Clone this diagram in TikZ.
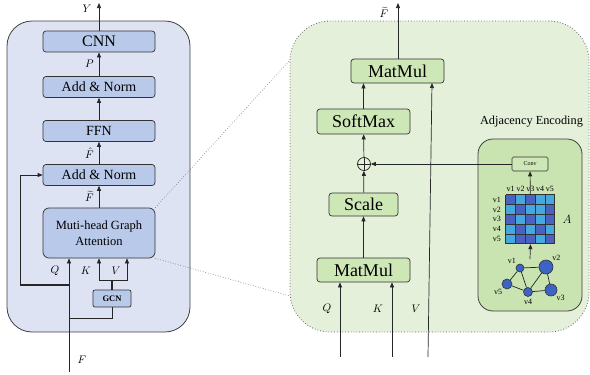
\documentclass[tikz,border=0pt]{standalone}
\usepackage{fontspec}
\setmainfont{Liberation Serif}
\usetikzlibrary{positioning, arrows.meta, calc}

\definecolor{leftbg}{HTML}{DDE3F3}
\definecolor{leftbox}{HTML}{B9C9EA}
\definecolor{rightbg}{HTML}{E4F0DA}
\definecolor{rightbox}{HTML}{CDE7B6}
\definecolor{innerbg}{HTML}{C9E3B1}
\definecolor{celldark}{HTML}{4A62C2}
\definecolor{celllight}{HTML}{45A9E0}
\definecolor{nodeblue}{HTML}{3D63C4}

\begin{document}
\begin{tikzpicture}[
    x=1pt, y=-1pt,
    panel/.style={rectangle, draw=black!75, line width=0.8pt},
    lbox/.style={rectangle, rounded corners=3pt, draw=black!80, line width=0.7pt, fill=leftbox, minimum width=112pt, minimum height=21pt, inner sep=1pt, font=\fontsize{14}{16}\selectfont},
    rbox/.style={rectangle, rounded corners=3pt, draw=black!80, line width=0.7pt, fill=rightbox, minimum width=93pt, minimum height=24pt, inner sep=1pt, font=\fontsize{18}{20}\selectfont},
    arrow/.style={-{Triangle[length=5pt, width=4pt]}, line width=0.7pt, draw=black!85},
    line/.style={line width=0.7pt, draw=black!85},
    lbl/.style={inner sep=0pt, font=\fontsize{11}{12}\selectfont},
    small/.style={inner sep=0pt, font=\fontsize{8}{9}\selectfont},
    zoomline/.style={dotted, draw=black!60, line width=0.6pt},
    vert/.style={circle, draw=black!80, line width=0.6pt, fill=nodeblue, inner sep=0pt},
]
\useasboundingbox (0,0) rectangle (590,375);

%% NODES
    % encoder block
    \node[panel, fill=leftbg, rounded corners=25pt, minimum width=183pt, minimum height=311pt] (left_panel) at (98.5,176.5) {};
    \node[lbox, font=\fontsize{16}{18}\selectfont] (cnn) at (99,41.5) {CNN};
    \node[lbox] (addnorm_top) at (99,87) {Add \& Norm};
    \node[lbox] (ffn) at (99,131) {FFN};
    \node[lbox] (addnorm_low) at (99,175) {Add \& Norm};
    \node[lbox, minimum height=50pt, rounded corners=6pt, align=center, font=\fontsize{12.5}{16}\selectfont] (mhga) at (99,233) {Muti-head Graph\\Attention};
    \node[lbox, rounded corners=2pt, minimum width=38pt, minimum height=17pt, font=\fontsize{8.5}{9}\selectfont\bfseries] (gcn) at (112,298.5) {GCN};

    % attention block
    \node[panel, fill=rightbg, draw=black!60, dotted, rounded corners=40pt, minimum width=299pt, minimum height=311pt] (right_panel) at (439.5,176.5) {};
    \node[rbox] (matmul_top) at (397.5,71) {MatMul};
    \node[rbox, minimum height=25pt] (softmax) at (363.5,121.5) {SoftMax};
    \node[circle, draw=black!85, line width=0.7pt, minimum size=13pt, inner sep=0pt] (plus) at (364,164) {};
    \draw[line] (plus.north) -- (plus.south) (plus.west) -- (plus.east);
    \node[rbox, minimum width=69pt, minimum height=23pt] (scale) at (363.5,204.5) {Scale};
    \node[rbox] (matmul_low) at (363.5,270) {MatMul};

    % adjacency encoding
    \node[inner sep=0pt, font=\fontsize{12.3}{14}\selectfont] (adj_title) at (531.5,122) {Adjacency Encoding};
    \node[panel, fill=innerbg, rounded corners=15pt, minimum width=104pt, minimum height=172pt] (adj_box) at (530,225) {};
    \node[rectangle, rounded corners=1.5pt, draw=black!80, line width=0.6pt, fill=rightbox, minimum width=36pt, minimum height=14pt, inner sep=0pt, font=\fontsize{6}{7}\selectfont] (conv) at (530,164) {Conv};
    \node[minimum size=49pt, inner sep=0pt] (adj_matrix) at (530.5,219.5) {};
    \fill[celllight] (adj_matrix.north west) rectangle (adj_matrix.south east);
    \foreach \c/\r in {1/1,3/1,2/2,5/2,1/3,3/3,5/3,2/4,4/4,2/5,3/5,5/5}
        \fill[celldark] ($(adj_matrix.north west)+({(\c-1)*9.8},{(\r-1)*9.8})$) rectangle +(9.8,9.8);
    \foreach \i in {0,...,5} {
        \draw[black!80, line width=0.8pt] ($(adj_matrix.north west)+({\i*9.8},0)$) -- ++(0,49);
        \draw[black!80, line width=0.8pt] ($(adj_matrix.north west)+(0,{\i*9.8})$) -- ++(49,0);
    }
    \foreach \i in {1,...,5} {
        \node[small] at ($(adj_matrix.north west)+({(\i-0.5)*9.8},-5.5)$) {v\i};
        \node[small] at ($(adj_matrix.north west)+(-9,{(\i-0.5)*9.8})$) {v\i};
    }
    \node[lbl, font=\fontsize{12}{12}\selectfont] (adj_label) at (567,219) {$A$};

    % graph
    \node[vert, minimum size=8pt, label={[small, inner sep=1pt]above left:v1}] (v1) at (520,268) {};
    \node[vert, minimum size=14pt, label={[small, inner sep=1pt]above right:v2}] (v2) at (546,267) {};
    \node[vert, minimum size=12pt, label={[small, inner sep=1pt]below right:v3}] (v3) at (551,290) {};
    \node[vert, minimum size=9pt, label={[small, inner sep=2pt]below:v4}] (v4) at (528,292) {};
    \node[vert, minimum size=10pt, label={[small, inner sep=1pt]below left:v5}] (v5) at (507,284) {};
    \coordinate (graph_top) at (530,259);

%% CONNECTIONS
    % encoder stack
    \coordinate (y_out) at (99,3);
    \draw[arrow] (cnn) -- (y_out);
    \node[lbl] at (87,9) {$Y$};
    \draw[arrow] (addnorm_top) -- node[lbl, left=5pt] {$P$} (cnn);
    \draw[arrow] (ffn) -- (addnorm_top);
    \draw[arrow] (addnorm_low) -- node[lbl, left=5pt] {$\hat{F}$} (ffn);
    \draw[arrow] (mhga) -- node[lbl, left=5pt] {$\widetilde{F}$} (addnorm_low);

    % input and residual
    \coordinate (f_in) at (69,372);
    \coordinate (res_tap) at (69,285);
    \coordinate (res_left) at (20,285);
    \coordinate (gcn_tap) at (69,318);
    \coordinate (kv_split) at (112,280);
    \draw[arrow] (f_in) -- (mhga.south -| f_in);
    \node[lbl] at (82,360) {$F$};
    \draw[line, line width=1.2pt] (res_tap) -- (res_left);
    \draw[arrow] (res_left) |- (addnorm_low.west);
    \draw[line] (gcn_tap) -| (gcn.south);
    \draw[line, line width=1.2pt] (gcn.north) -- (kv_split);
    \draw[arrow] (kv_split) -| (mhga.south);
    \draw[arrow] (kv_split) -| ([xshift=28pt]mhga.south);
    \node[lbl] at (55,271) {$Q$};
    \node[lbl] at (86,271) {$K$};
    \node[lbl] at (116,271) {$V$};

    % zoom lines
    \coordinate (zoom_top) at (290,60);
    \coordinate (zoom_bot) at (290,296);
    \draw[zoomline] (mhga.north east) -- (zoom_top);
    \draw[zoomline] (mhga.south east) -- (zoom_bot);

    % attention stack
    \coordinate (f_out) at (398,3);
    \draw[arrow] (matmul_top.north -| f_out) -- (f_out);
    \node[lbl] at (384,12) {$\widetilde{F}$};
    \draw[arrow] (softmax) -- (matmul_top.south -| softmax);
    \draw[arrow] (plus) -- (softmax);
    \draw[arrow] (scale) -- (plus);
    \draw[arrow] (matmul_low) -- (scale);
    \draw[arrow] (conv) -- (plus);

    % Q, K, V inputs
    \coordinate (q_in) at (340,357);
    \coordinate (k_in) at (392,357);
    \coordinate (v_in) at (428,357);
    \coordinate (v_top) at (432,83);
    \draw[arrow] (q_in) -- (matmul_low.south -| q_in);
    \draw[arrow] (k_in) -- (matmul_low.south -| k_in);
    \draw[arrow] (v_in) -- (v_top);
    \node[lbl] at (327,309) {$Q$};
    \node[lbl] at (378,309) {$K$};
    \node[lbl] at (416,309) {$V$};

    % adjacency encoding
    \draw[arrow] (adj_matrix) -- (conv);
    \draw[arrow] (graph_top) -- (adj_matrix.south);
    \draw[line] (v1) -- (v2) (v1) -- (v5) (v1) -- (v4) (v2) -- (v4) (v2) -- (v3) (v5) -- (v4) (v4) -- (v3);

\end{tikzpicture}
\end{document}
